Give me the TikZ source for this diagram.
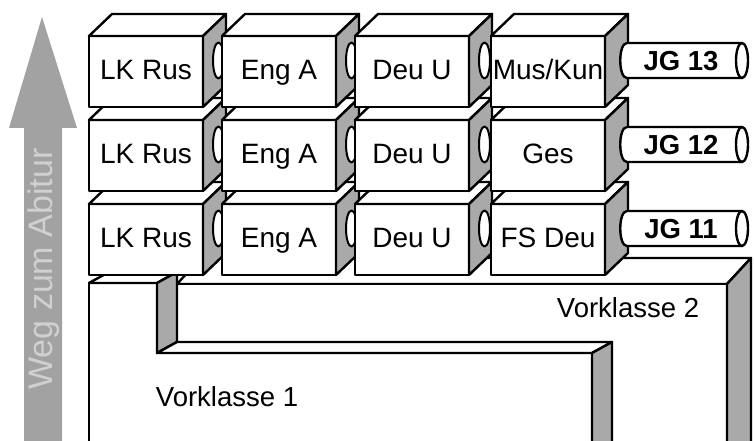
\documentclass[tikz,border=0pt]{standalone}
\usepackage{fontspec}
\setmainfont{Liberation Sans}
\definecolor{sidegray}{HTML}{A9A9A9}
\definecolor{arrowgray}{HTML}{A2A2A2}
\definecolor{textgray}{HTML}{D0D0D0}
\tikzset{
  outl/.style={draw=black, line width=2.4pt, line join=round},
  front/.style={outl, fill=white, rectangle, minimum width=114pt, minimum height=71pt, inner sep=0pt, outer sep=0pt, text height=20pt, text depth=4pt, font=\fontsize{28}{30}\selectfont},
  topf/.style={outl, fill=white},
  sidef/.style={outl, fill=sidegray},
  rodend/.style={outl, fill=white, line width=2pt},
  lbl/.style={font=\fontsize{27.5}{30}\selectfont, inner sep=0pt},
  jglbl/.style={font=\fontsize{27.5}{30}\selectfont\bfseries, inner sep=0pt, text height=20pt, text depth=0pt}
}
\newcommand\kbox[4]{%
  \node[front] (#1) at (#2,#3) {#4};
  \filldraw[topf] (#1.north west) -- ++(23,-22) -- ++(114,0) -- (#1.north east) -- cycle;
  \filldraw[sidef] (#1.north east) -- ++(23,-22) -- ++(0,71) -- (#1.south east) -- cycle;
}
\newcommand\krod[1]{%
  \filldraw[rodend] ([shift={(15.5,-11)}]#1.east) ellipse [x radius=5.5, y radius=18];
}
\newcommand\kcyl[3]{% name, center y, text
  \filldraw[outl, fill=white] (627,#2-17.5) -- (742,#2-17.5) -- (742,#2+17.5) -- (627,#2+17.5)
     .. controls (618,#2+17.5) and (618,#2-17.5) .. (627,#2-17.5);
  \filldraw[outl, fill=white] (742,#2) ellipse [x radius=6, y radius=17.5];
  \node[jglbl] (#1) at (681,#2) {#3};
}
\begin{document}
\begin{tikzpicture}[x=1pt, y=-1pt]
\clip (0,0) rectangle (755,441);
\fill[white] (0,0) rectangle (755,441);

% arrow
\fill[arrowgray] (24,445) -- (24,128) -- (9,128) -- (42,17) -- (77,128) -- (62,128) -- (62,445) -- cycle;
\node[font=\fontsize{34}{36}\selectfont, text=textgray, rotate=90, inner sep=0pt] (weg) at (44,269) {Weg zum Abitur};

% Vorklasse 2 (behind)
\filldraw[topf] (177,284) -- (727,284) -- (751,258) -- (201,258) -- cycle;
\filldraw[topf] (177,284) -- (727,284) -- (727,450) -- (612,450) -- (612,342) -- (177,342) -- cycle;
\filldraw[sidef] (727,284) -- (751,258) -- (751,450) -- (727,450) -- cycle;
\node[lbl] (vk2) at (628,308) {Vorklasse 2};

% Vorklasse 1 (front)
\filldraw[topf] (89,283) -- (157,283) -- (157,353) -- (592,353) -- (592,450) -- (89,450) -- cycle;
\filldraw[topf] (89,283) -- (157,283) -- (177,272) -- (109,272) -- cycle;
\filldraw[sidef] (157,283) -- (177,272) -- (177,342) -- (157,353) -- cycle;
\filldraw[topf] (157,353) -- (592,353) -- (612,342) -- (177,342) -- cycle;
\filldraw[sidef] (592,353) -- (612,342) -- (612,450) -- (592,450) -- cycle;
\node[lbl] (vk1) at (227,397) {Vorklasse 1};

% row JG 11
\kbox{a1}{146}{239.5}{LK Rus}\krod{a1}
\kbox{a2}{279}{239.5}{Eng A}\krod{a2}
\kbox{a3}{412}{239.5}{Deu U}\krod{a3}
\kbox{a4}{548}{239.5}{FS Deu}
\kcyl{jg11}{228.5}{JG 11}

% row JG 12
\kbox{b1}{146}{155.5}{LK Rus}\krod{b1}
\kbox{b2}{279}{155.5}{Eng A}\krod{b2}
\kbox{b3}{412}{155.5}{Deu U}\krod{b3}
\kbox{b4}{548}{155.5}{Ges}
\kcyl{jg12}{144.5}{JG 12}

% row JG 13
\kbox{c1}{146}{71.5}{LK Rus}\krod{c1}
\kbox{c2}{279}{71.5}{Eng A}\krod{c2}
\kbox{c3}{412}{71.5}{Deu U}\krod{c3}
\kbox{c4}{548}{71.5}{Mus/Kun}
\kcyl{jg13}{60.5}{JG 13}
\end{tikzpicture}
\end{document}
